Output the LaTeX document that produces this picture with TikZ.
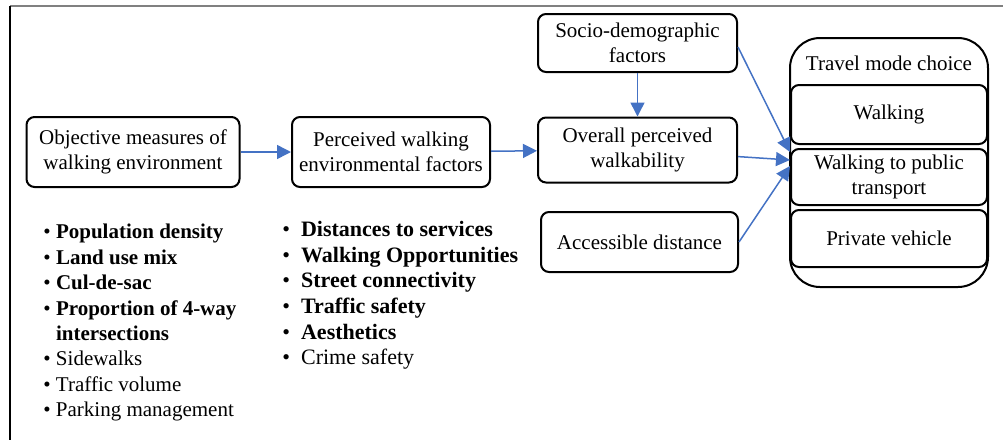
\documentclass[tikz,border=0pt]{standalone}
\usepackage{fontspec}
\setmainfont{Liberation Serif}
\usetikzlibrary{arrows.meta}
\definecolor{arrowblue}{RGB}{68,114,196}
\begin{document}
\begin{tikzpicture}[
    x=0.5pt, y=-0.5pt,
    box/.style={draw, rounded corners=4pt, line width=1pt, align=center, inner sep=1pt},
    mode/.style={box, minimum width=98pt},
    link/.style={-{Triangle[length=7pt,width=7pt]}, draw=arrowblue, fill=arrowblue, line width=0.75pt},
    list/.style={align=left, anchor=north west, inner sep=0pt},
    every node/.style={font=\fontsize{10.5}{12.7}\selectfont}
  ]
  \useasboundingbox (0,0) rectangle (1003,440);

  % Frame
  \draw[gray, line width=1pt] (10,6) -- (1003,6);
  \draw[line width=0.8pt] (10,6) -- (10,440);

  % Left column
  \node[box, minimum width=106.5pt, minimum height=35pt] (obj) at (133,152)
    {Objective measures of\\ walking environment};
  \node[box, minimum width=99pt, minimum height=35pt] (perc) at (391,152)
    {Perceived walking\\ environmental factors};

  % Middle column
  \node[box, minimum width=99.5pt, minimum height=29pt] (socio) at (637.5,43)
    {Socio-demographic\\ factors};
  \node[box, minimum width=99.5pt, minimum height=32.5pt] (overall) at (637.5,150)
    {Overall perceived\\ walkability};
  \node[box, minimum width=98.5pt, minimum height=30pt] (access) at (639.5,242)
    {Accessible distance};

  % Travel mode choice
  \draw[line width=1pt, rounded corners=15pt] (790,38) rectangle (988,287);
  \node (travel) at (889,63) {Travel mode choice};
  \node[mode, minimum height=29.5pt] (walk) at (889,114.5) {Walking};
  \node[mode, minimum height=28pt] (pt) at (889,177) {Walking to public\\ transport};
  \node[mode, minimum height=28.5pt] (car) at (889,238.5) {Private vehicle};
  \coordinate (in-1) at (790,152);
  \coordinate (in-2) at (790,160);
  \coordinate (in-3) at (790,166);

  % Lists
  \node[list] (obj-list) at (43,224) {%
    \textbullet\ \textbf{Population density}\\
    \textbullet\ \textbf{Land use mix}\\
    \textbullet\ \textbf{Cul-de-sac}\\
    \textbullet\ \textbf{Proportion of 4-way}\\
    \phantom{\textbullet\ }\textbf{intersections}\\
    \textbullet\ Sidewalks\\
    \textbullet\ Traffic volume\\
    \textbullet\ Parking management};
  \node[list, font=\fontsize{11}{12.8}\selectfont] (perc-list) at (282,221) {%
    \textbullet\ \ \textbf{Distances to services}\\
    \textbullet\ \ \textbf{Walking Opportunities}\\
    \textbullet\ \ \textbf{Street connectivity}\\
    \textbullet\ \ \textbf{Traffic safety}\\
    \textbullet\ \ \textbf{Aesthetics}\\
    \textbullet\ \ Crime safety};

  % Connections
  \draw[link] (obj) -- (perc);
  \draw[link] (perc) -- (overall);
  \draw[link] (socio) -- (overall);
  \draw[link] (socio.east) ++(0,4) -- (in-1);
  \draw[link] (overall) -- (in-2);
  \draw[link] (access.east) -- (in-3);

\end{tikzpicture}
\end{document}
